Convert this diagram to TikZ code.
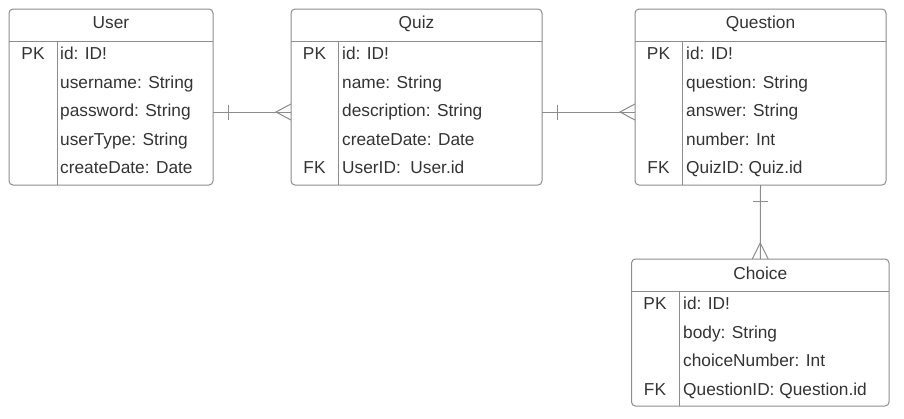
\documentclass[tikz,border=0pt]{standalone}
\usepackage{fontspec}
\setmainfont{Liberation Sans}
\usetikzlibrary{positioning,calc}
\definecolor{erline}{HTML}{8C8C8C}
\definecolor{ertext}{HTML}{333333}
\tikzstyle{entity}=[draw=erline,line width=1pt,rounded corners=4pt,inner sep=0pt,outer sep=0pt]
\tikzstyle{rule}=[draw=erline,line width=1pt]
\tikzstyle{title}=[anchor=base,inner sep=0pt,text=ertext,font=\fontsize{17.3}{20}\selectfont]
\tikzstyle{keyname}=[anchor=base,inner sep=0pt,text=ertext,font=\fontsize{17.3}{20}\selectfont]
\tikzstyle{field}=[anchor=base west,inner sep=0pt,text=ertext,font=\fontsize{17.3}{20}\selectfont]

\begin{document}
\begin{tikzpicture}[x=1pt,y=-1pt]
    \useasboundingbox (0,0) rectangle (904,418);
    % tables
    \node [entity,minimum width=204pt,minimum height=176pt] (user) at (111,97) {};
    \node [entity,minimum width=251pt,minimum height=176pt] (quiz) at (416.5,97) {};
    \node [entity,minimum width=251pt,minimum height=176pt] (question) at (760.5,97) {};
    \node [entity,minimum width=257.5pt,minimum height=147pt] (choice) at (760.25,332.5) {};
    \draw [rule] (user.west |- 0,41) -- (user.east |- 0,41);
    \draw [rule] (57,41) -- (57,185);
    \draw [rule] (quiz.west |- 0,41) -- (quiz.east |- 0,41);
    \draw [rule] (338,41) -- (338,185);
    \draw [rule] (question.west |- 0,41) -- (question.east |- 0,41);
    \draw [rule] (682,41) -- (682,185);
    \draw [rule] (choice.west |- 0,291) -- (choice.east |- 0,291);
    \draw [rule] (679,291) -- (679,406);
    % User
    \node [title] (user-t) at (111,28.3) {User};
    \node [keyname] (user-pk) at (33,59.5) {PK};
    \node [field] (user-1) at (60,59.5) {id: ID!};
    \node [field] (user-2) at (60,88) {username: String};
    \node [field] (user-3) at (60,116.5) {password: String};
    \node [field] (user-4) at (60,145) {userType: String};
    \node [field] (user-5) at (60,173.5) {createDate: Date};
    % Quiz
    \node [title] (quiz-t) at (416.5,28.3) {Quiz};
    \node [keyname] (quiz-pk) at (314.5,59.5) {PK};
    \node [keyname] (quiz-fk) at (314.5,173.5) {FK};
    \node [field] (quiz-1) at (342,59.5) {id: ID!};
    \node [field] (quiz-2) at (342,88) {name: String};
    \node [field] (quiz-3) at (342,116.5) {description: String};
    \node [field] (quiz-4) at (342,145) {createDate: Date};
    \node [field] (quiz-5) at (342,173.5) {UserID:~ User.id};
    % Question
    \node [title] (question-t) at (760.5,28.3) {Question};
    \node [keyname] (question-pk) at (658.5,59.5) {PK};
    \node [keyname] (question-fk) at (658.5,173.5) {FK};
    \node [field] (question-1) at (686,59.5) {id: ID!};
    \node [field] (question-2) at (686,88) {question: String};
    \node [field] (question-3) at (686,116.5) {answer: String};
    \node [field] (question-4) at (686,145) {number: Int};
    \node [field] (question-5) at (686,173.5) {QuizID: Quiz.id};
    % Choice
    \node [title] (choice-t) at (760.25,279.3) {Choice};
    \node [keyname] (choice-pk) at (655,309.5) {PK};
    \node [keyname] (choice-fk) at (655,395) {FK};
    \node [field] (choice-1) at (683,309.5) {id: ID!};
    \node [field] (choice-2) at (683,338) {body: String};
    \node [field] (choice-3) at (683,366.5) {choiceNumber: Int};
    \node [field] (choice-4) at (683,395) {QuestionID: Question.id};
    % relations
    \coordinate (lnk) at (0,112);
    \draw [rule] (user.east |- lnk) -- (quiz.west |- lnk);
    \draw [rule] ($(user.east |- lnk)+(15,-7.5)$) -- ++(0,15);
    \draw [rule] ($(quiz.west |- lnk)+(0,-8)$) -- ($(quiz.west |- lnk)+(-15,0)$) -- ($(quiz.west |- lnk)+(0,8)$);
    \draw [rule] (quiz.east |- lnk) -- (question.west |- lnk);
    \draw [rule] ($(quiz.east |- lnk)+(15,-7.5)$) -- ++(0,15);
    \draw [rule] ($(question.west |- lnk)+(0,-8)$) -- ($(question.west |- lnk)+(-15,0)$) -- ($(question.west |- lnk)+(0,8)$);
    \draw [rule] (question.south) -- (choice.north);
    \draw [rule] ($(question.south)+(-7.5,16.5)$) -- ++(15,0);
    \draw [rule] ($(choice.north)+(-8,0)$) -- ($(choice.north)+(0,-16)$) -- ($(choice.north)+(8,0)$);
\end{tikzpicture}
\end{document}
